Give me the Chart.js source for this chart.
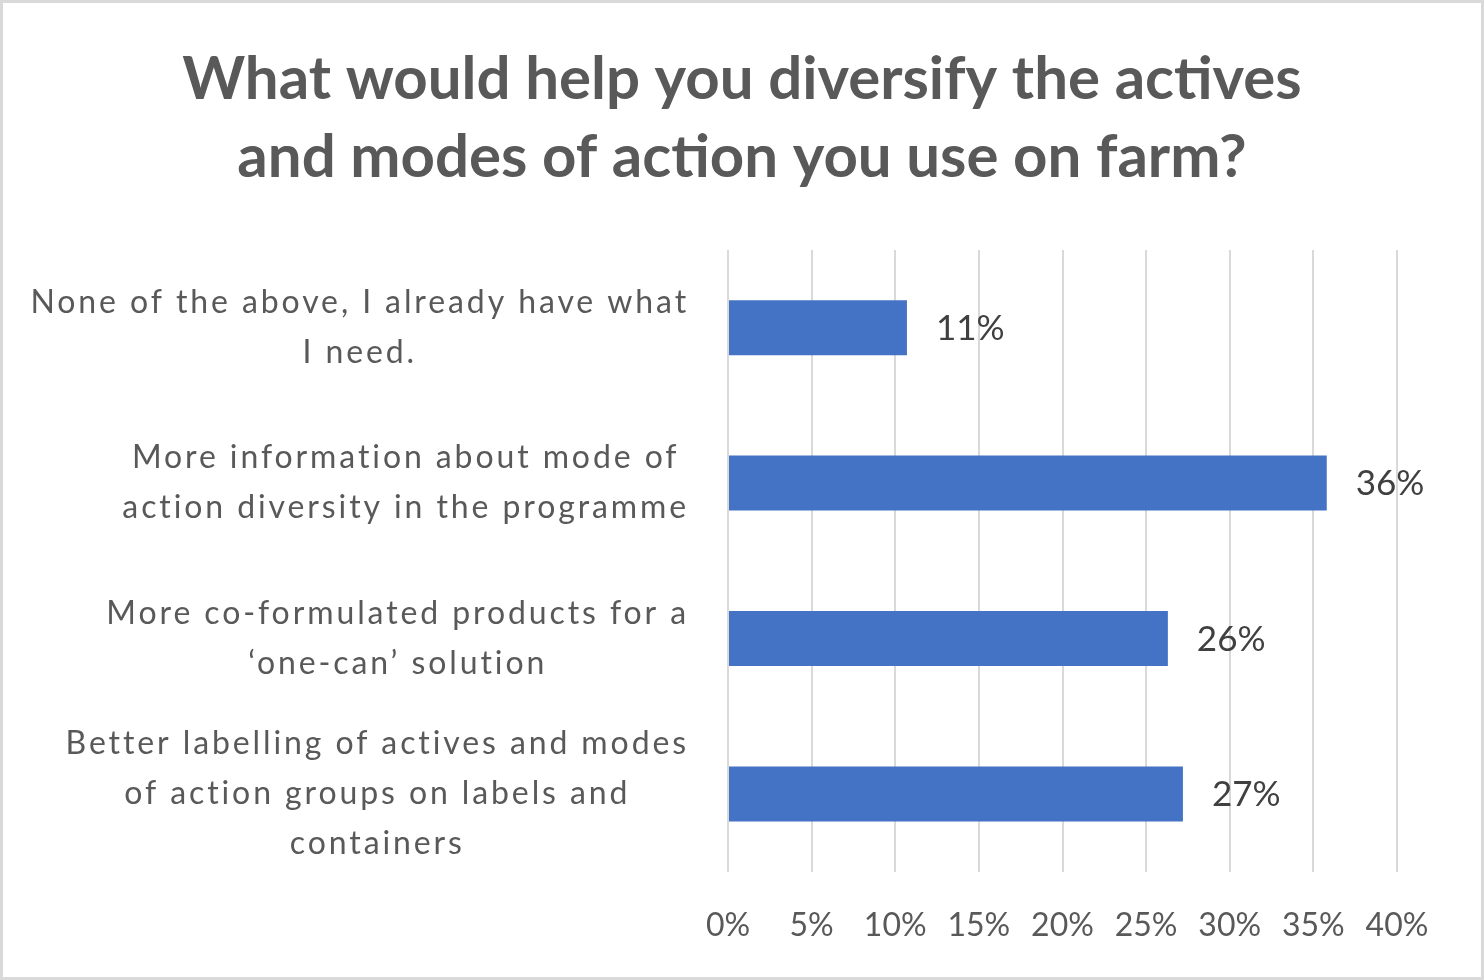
<!DOCTYPE html>
<html>
<head>
<meta charset="utf-8">
<title>Diversify actives and modes of action</title>
<script src="https://cdn.jsdelivr.net/npm/chart.js@4.4.1/dist/chart.umd.min.js"></script>
<style>
  html, body { margin: 0; padding: 0; background: #ffffff; }
  #chart { display: block; }
</style>
</head>
<body>
<canvas id="chart" width="1484" height="980"></canvas>
<script>
// chart data
const titleLines = [
    'What would help you diversify the actives',
    'and modes of action you use on farm?'
];
const categories = [
    ['None of the above, I already have what', 'I need.'],
    ['More information about mode of', 'action diversity in the programme'],
    ['More co-formulated products for a', '\u2018one-can\u2019 solution'],
    ['Better labelling of actives and modes', 'of action groups on labels and', 'containers']
];
const shares = [10.7, 35.8, 26.3, 27.2];   // percent of respondents
const axisMin = 0;
const axisMax = 40;
const axisStep = 5;

const FONT = 'Lato, Calibri, Carlito, sans-serif';

// white background + light grey frame round the whole picture
const framePlugin = {
    id: 'frame',
    beforeDraw(chart) {
        const c = chart.ctx;
        c.save();
        c.fillStyle = '#ffffff';
        c.fillRect(0, 0, chart.width, chart.height);
        c.strokeStyle = '#d9d9d9';
        c.lineWidth = 3;
        c.strokeRect(1.5, 1.5, chart.width - 3, chart.height - 3);
        c.restore();
    }
};

// category names: block right-aligned next to the plot, lines centred in the block
const categoryLabelPlugin = {
    id: 'categoryLabels',
    afterDraw(chart) {
        const c = chart.ctx;
        const yScale = chart.scales.y;
        const labelRight = chart.chartArea.left - 39;
        c.save();
        c.font = '32px ' + FONT;
        c.letterSpacing = '2.9px';
        c.fillStyle = '#595959';
        c.textAlign = 'center';
        c.textBaseline = 'middle';
        categories.forEach((lines, i) => {
            const yMid = yScale.getPixelForValue(i);
            const maxW = Math.max(...lines.map(l => c.measureText(l).width));
            const cx = labelRight - maxW / 2;
            lines.forEach((line, j) => {
                c.fillText(line, cx, yMid + (j - (lines.length - 1) / 2) * 50);
            });
        });
        c.restore();
    }
};

// value labels just past the end of each bar
const valueLabelPlugin = {
    id: 'valueLabels',
    afterDatasetsDraw(chart) {
        const c = chart.ctx;
        const meta = chart.getDatasetMeta(0);
        c.save();
        c.font = '35px ' + FONT;
        c.fillStyle = '#404040';
        c.textAlign = 'left';
        c.textBaseline = 'middle';
        meta.data.forEach((bar, i) => {
            c.fillText(Math.round(shares[i]) + '%', bar.x + 29, bar.y + 1);
        });
        c.restore();
    }
};

const ctx = document.getElementById('chart').getContext('2d');
const chartInstance = new Chart(ctx, {
    type: 'bar',
    data: {
        labels: categories,
        datasets: [{
            data: shares,
            backgroundColor: '#4472c4',
            borderWidth: 0,
            barPercentage: 0.354,
            categoryPercentage: 1.0
        }]
    },
    options: {
        indexAxis: 'y',
        responsive: false,
        animation: false,
        devicePixelRatio: 1,
        layout: {
            padding: 0
        },
        plugins: {
            legend: { display: false },
            tooltip: { enabled: false },
            title: {
                display: true,
                text: titleLines,
                color: '#595959',
                font: { family: FONT, size: 60, weight: 'bold', lineHeight: 78 / 60 },
                padding: { top: 41, bottom: 53 }
            }
        },
        scales: {
            y: {
                type: 'category',
                border: { display: false },
                grid: { display: false },
                ticks: { display: false },
                afterFit: (scale) => { scale.width = 728; }
            },
            // empty axis on the right, only keeps room after the 40% line
            yRight: {
                type: 'linear',
                position: 'right',
                border: { display: false },
                grid: { display: false },
                ticks: { display: false },
                afterFit: (scale) => { scale.width = 87; }
            },
            x: {
                min: axisMin,
                max: axisMax,
                border: { display: false },
                grid: { color: '#d9d9d9', lineWidth: 2, drawTicks: false },
                ticks: {
                    stepSize: axisStep,
                    padding: 35,
                    color: '#595959',
                    font: { family: FONT, size: 32 },
                    callback: (v) => v + '%'
                }
            }
        }
    },
    plugins: [framePlugin, categoryLabelPlugin, valueLabelPlugin]
});
</script>
</body>
</html>
